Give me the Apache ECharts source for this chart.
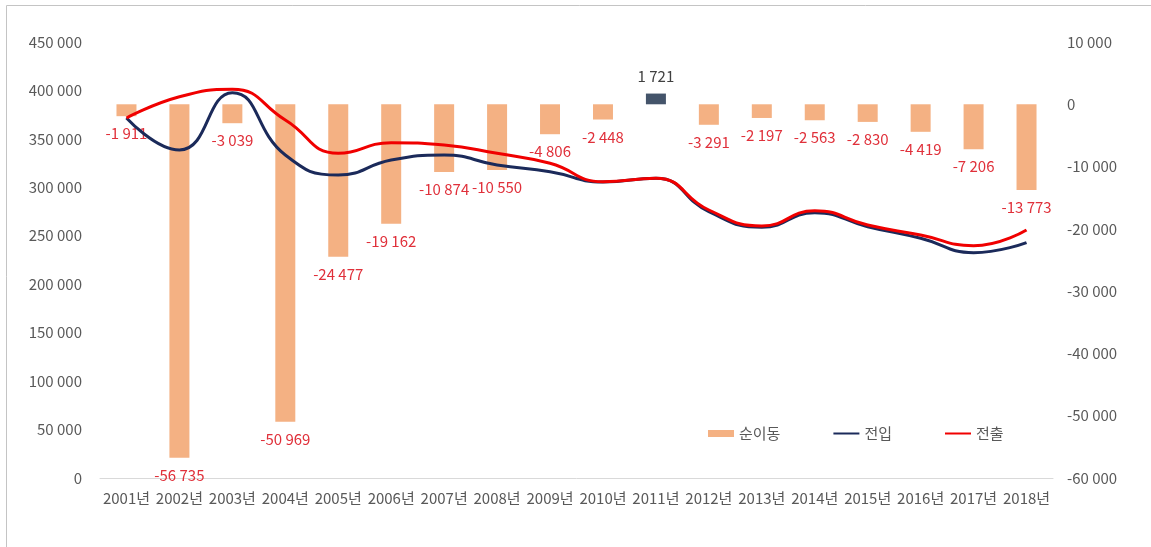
<!DOCTYPE html>
<html>
<head>
<meta charset="utf-8">
<script src="https://cdn.jsdelivr.net/npm/echarts@6/dist/echarts.min.js"></script>
<style>
  html, body { margin: 0; padding: 0; background: #fff; }
  #chart { width: 1151px; height: 547px; }
</style>
</head>
<body>
<div id="chart"></div>
<script>
const years = ['2001년', '2002년', '2003년', '2004년', '2005년', '2006년', '2007년', '2008년', '2009년',
    '2010년', '2011년', '2012년', '2013년', '2014년', '2015년', '2016년', '2017년', '2018년'];

// 순이동 (오른쪽 축)
const netMove = [-1911, -56735, -3039, -50969, -24477, -19162, -10874, -10550, -4806,
    -2448, 1721, -3291, -2197, -2563, -2830, -4419, -7206, -13773];

// 전입 / 전출 (왼쪽 축, 그림에서 읽은 값)
const moveIn = [371600, 338500, 397700, 333400, 312700, 328200, 333400, 323100, 316100,
    305500, 309300, 274900, 258700, 273800, 259400, 247400, 232600, 242900];
const moveOut = [371600, 393500, 401200, 369500, 335100, 346100, 343700, 335100, 324800,
    305800, 309300, 276600, 260100, 275900, 261100, 250800, 239800, 256000];

const FONT = 'Noto Sans CJK KR';
const ORANGE = '#f4b183';
const SLATE = '#44546a';
const NAVY = '#1b2a5a';
const RED = '#f00000';
const LABEL_RED = '#e0303a';

function fmt(v) {
    const s = String(Math.abs(v)).replace(/\B(?=(\d{3})+(?!\d))/g, ' ');
    return (v < 0 ? '-' : '') + s;
}

const chart = echarts.init(document.getElementById('chart'), null, { renderer: 'canvas' });

const barData = netMove.map(v => ({
    value: v,
    itemStyle: { color: v > 0 ? SLATE : ORANGE },
    label: {
        position: v < 0 ? 'bottom' : 'top',
        color: v > 0 ? '#404040' : LABEL_RED
    }
}));

const option = {
    animation: false,
    textStyle: { fontFamily: FONT },
    graphic: [{
        type: 'rect',
        shape: { x: 6.5, y: 5.5, width: 1300, height: 700 },
        style: { fill: 'none', stroke: '#c4c4c4', lineWidth: 1 },
        silent: true
    }],
    legend: {
        left: 703,
        top: 421,
        itemGap: 52,
        itemWidth: 26,
        itemHeight: 7,
        textStyle: { fontFamily: FONT, fontSize: 15, color: '#595959' },
        data: [
            { name: '순이동', icon: 'rect' },
            { name: '전입', itemStyle: { opacity: 0 } },
            { name: '전출', itemStyle: { opacity: 0 } }
        ]
    },
    grid: { left: 100, right: 98, top: 42, bottom: 69 },
    xAxis: {
        type: 'category',
        data: years,
        axisLine: { lineStyle: { color: '#d9d9d9', width: 1 } },
        axisTick: { show: false },
        axisLabel: {
            interval: 0,
            margin: 13,
            color: '#595959',
            fontSize: 15,
            fontFamily: FONT
        }
    },
    yAxis: [{
        type: 'value',
        min: 0,
        max: 450000,
        interval: 50000,
        splitLine: { show: false },
        axisLine: { show: false },
        axisTick: { show: false },
        axisLabel: { margin: 18, color: '#595959', fontSize: 15, fontFamily: FONT, formatter: fmt }
    }, {
        type: 'value',
        min: -60000,
        max: 10000,
        interval: 10000,
        position: 'right',
        splitLine: { show: false },
        axisLine: { show: false },
        axisTick: { show: false },
        axisLabel: { margin: 14, color: '#595959', fontSize: 15, fontFamily: FONT, formatter: fmt }
    }],
    series: [{
        name: '순이동',
        type: 'bar',
        yAxisIndex: 1,
        barWidth: 20,
        itemStyle: { color: ORANGE },
        label: {
            show: true,
            distance: 10,
            fontSize: 15,
            fontFamily: FONT,
            formatter: p => fmt(p.value)
        },
        data: barData,
        z: 1
    }, {
        name: '전입',
        type: 'line',
        yAxisIndex: 0,
        smooth: true,
        symbol: 'none',
        lineStyle: { width: 3, color: NAVY },
        itemStyle: { color: NAVY },
        data: moveIn,
        z: 3
    }, {
        name: '전출',
        type: 'line',
        yAxisIndex: 0,
        smooth: true,
        symbol: 'none',
        lineStyle: { width: 3, color: RED },
        itemStyle: { color: RED },
        data: moveOut,
        z: 4
    }]
};

chart.setOption(option);
</script>
</body>
</html>
